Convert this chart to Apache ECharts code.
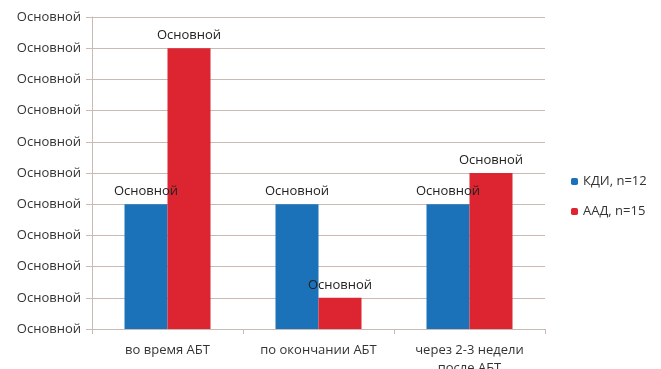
<!DOCTYPE html>
<html>
<head>
<meta charset="utf-8">
<script src="https://cdn.jsdelivr.net/npm/echarts@6/dist/echarts.min.js"></script>
<style>
  html, body { margin: 0; padding: 0; background: #fff; }
  #chart { width: 661px; height: 369px; }
</style>
</head>
<body>
<div id="chart"></div>
<script>
const categories = ['во время АБТ', 'по окончании АБТ', 'через 2-3 недели\nпосле АБТ'];
const kdiValues = [4, 4, 4];
const aadValues = [9, 1, 5];
const seriesNames = ['КДИ, n=12', 'ААД, n=15'];
const tickLabel = 'Основной';
const barLabel = 'Основной';

const chart = echarts.init(document.getElementById('chart'));
const font = '"Open Sans", sans-serif';
const lineColor = '#c9bab3';

const barLabelOpts = {
    show: true,
    position: 'top',
    distance: 6,
    formatter: () => barLabel,
    color: '#222',
    fontFamily: font,
    fontSize: 13
};

chart.setOption({
    animation: false,
    textStyle: { fontFamily: font },
    grid: { left: 92, right: 116, top: 17, bottom: 40, containLabel: false, outerBoundsMode: 'none' },
    legend: {
        orient: 'vertical',
        left: 566,
        top: 170,
        itemWidth: 7,
        itemHeight: 7,
        itemGap: 17,
        textStyle: { fontFamily: font, fontSize: 13, color: '#333' },
        data: seriesNames
    },
    xAxis: {
        type: 'category',
        data: categories,
        axisLine: { lineStyle: { color: lineColor } },
        axisTick: { show: true, alignWithLabel: false, length: 5, lineStyle: { color: lineColor } },
        axisLabel: {
            interval: 0,
            hideOverlap: false,
            color: '#333',
            fontSize: 13,
            fontFamily: font,
            margin: 12,
            lineHeight: 18
        }
    },
    yAxis: {
        type: 'value',
        min: 0,
        max: 10,
        interval: 1,
        axisLine: { show: true, lineStyle: { color: lineColor } },
        axisTick: { show: true, length: 6, lineStyle: { color: lineColor } },
        splitLine: { lineStyle: { color: lineColor } },
        axisLabel: {
            formatter: () => tickLabel,
            color: '#333',
            fontSize: 13,
            fontFamily: font,
            margin: 11
        }
    },
    series: [
        {
            name: seriesNames[0],
            type: 'bar',
            data: kdiValues,
            barWidth: 43,
            barGap: '0%',
            itemStyle: { color: '#1b72b9' },
            label: barLabelOpts
        },
        {
            name: seriesNames[1],
            type: 'bar',
            data: aadValues,
            barWidth: 43,
            itemStyle: { color: '#dc2530' },
            label: barLabelOpts
        }
    ]
});
</script>
</body>
</html>
